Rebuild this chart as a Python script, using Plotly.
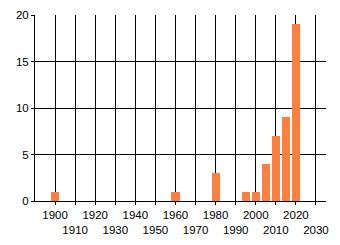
import plotly.graph_objects as go

years = [1900, 1960, 1980, 1995, 2000, 2005, 2010, 2015, 2020]
counts = [1, 1, 3, 1, 1, 4, 7, 9, 19]
tick_years = list(range(1900, 2031, 10))
tick_labels = [str(y) if (i % 2 == 0) else "<br>" + str(y) for i, y in enumerate(tick_years)]
y_ticks = [0, 5, 10, 15, 20]

fig = go.Figure(go.Bar(x=years, y=counts, width=4, marker=dict(color="#FF7F40", line=dict(width=0))))

fig.update_layout(
    width=340, height=245,
    margin=dict(l=35, r=14, t=15, b=44),
    paper_bgcolor="white", plot_bgcolor="white",
    font=dict(family="Liberation Sans, Arial, sans-serif", size=11.5, color="black"),
    showlegend=False,
    bargap=0,
)
fig.update_xaxes(
    range=[1890, 2035], tickmode="array", tickvals=tick_years, ticktext=tick_labels,
    showgrid=True, gridcolor="black", gridwidth=1,
    showline=True, linecolor="black", linewidth=1,
    ticks="outside", ticklen=3, tickcolor="black", zeroline=False,
    tickangle=0, automargin=False,
)
fig.update_yaxes(
    range=[0, 20], tickmode="array", tickvals=y_ticks,
    showgrid=True, gridcolor="black", gridwidth=1,
    showline=True, linecolor="black", linewidth=1,
    ticks="outside", ticklen=3, tickcolor="black", zeroline=False,
    automargin=False,
)
fig.write_html("out.html")
